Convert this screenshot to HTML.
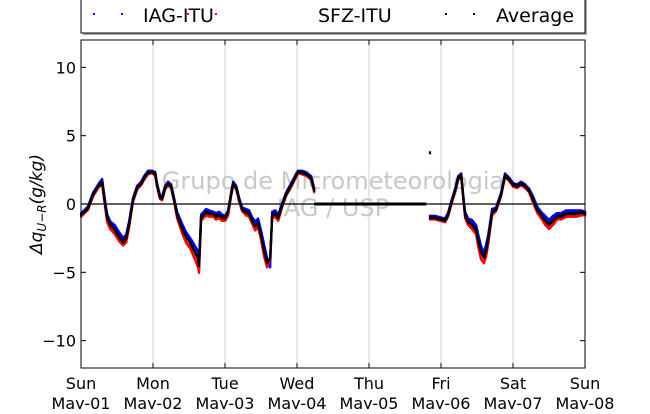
<!DOCTYPE html>
<html><head><meta charset="utf-8"><style>
body{margin:0;background:#fff;width:650px;height:409px;overflow:hidden}
svg text{font-family:"DejaVu Sans","Liberation Sans",sans-serif}
</style></head><body>
<svg id="chart" width="650" height="409" viewBox="0 0 650 409" xmlns="http://www.w3.org/2000/svg">
<g id="grid"></g>
<g id="watermark">
<text x="333" y="189" font-size="24" fill="#c8c8c8" text-anchor="middle">Grupo de Micrometeorologia</text>
<text x="333" y="216" font-size="24" fill="#c8c8c8" text-anchor="middle">IAG / USP</text>
</g>
<line x1="81" y1="204" x2="585" y2="204" stroke="#000" stroke-width="1.3"/>
<g id="marks"></g>
<rect x="81" y="40" width="504" height="328" fill="none" stroke="#000" stroke-width="1"/>
<g id="axes"></g>
<text transform="translate(42,204) rotate(-90)" font-size="17" text-anchor="middle" font-family="Liberation Serif,serif" font-style="italic">Δq<tspan font-size="12" dy="4">U−R</tspan><tspan dy="-4">(g/kg)</tspan></text>
<g>
<rect x="83" y="-6" width="504" height="41" fill="#aaa"/>
<rect x="81" y="-8" width="504" height="41" fill="#fff" stroke="#000"/>
<g><rect x="93" y="13" width="2" height="2" fill="#00f"/><rect x="121" y="13" width="2" height="2" fill="#00f"/><text x="143" y="22" font-size="19">IAG-ITU</text></g>
<g><rect x="187" y="13" width="2" height="2" fill="#f00"/><rect x="215" y="13" width="2" height="2" fill="#f00"/><text x="318" y="22" font-size="19">SFZ-ITU</text></g>
<g><rect x="445" y="13" width="2" height="2" fill="#000"/><rect x="473" y="13" width="2" height="2" fill="#000"/><text x="496" y="22" font-size="19">Average</text></g>
</g>
</svg>
<script>
// hours since Sun May-01 00:00
const hours=[0,2.3,4,5.7,7,8,8.7,9.7,11.3,12.7,14,15,16,17.3,18.7,20,21,22.3,23.7,24.7,25.3,26.3,27,28,29,30,31,32,33.7,35,36.3,37.7,39,39.3,40,41.7,42.7,44,45,46,47,48,49,50,50.7,51.7,52.7,53.7,55,56,57,58,59,60,61,62,63,63.7,64.7,65.7,67,68.3,69.7,71,72.3,73.7,75,76.7,77.7];
const avgA=[-0.8,-0.3,0.7,1.3,1.6,0,-1,-1.5,-1.9,-2.4,-2.8,-2.5,-1.5,0.3,1.2,1.5,1.9,2.3,2.35,2.2,1.4,0.5,0.4,1.2,1.5,1.3,0.3,-0.8,-1.8,-2.4,-2.8,-3.4,-4.0,-4.5,-1.0,-0.6,-0.7,-0.7,-0.9,-0.8,-1,-1,-0.6,0.7,1.5,1.2,0.3,-0.4,-0.6,-0.7,-1.2,-1.6,-1.4,-2.3,-3.4,-4.3,-4.0,-0.8,-0.7,-1,-0.1,0.7,1.25,1.8,2.35,2.3,2.2,1.9,1.0];
const iagA=[-0.7,-0.2,0.8,1.4,1.8,0.2,-0.8,-1.3,-1.6,-2.1,-2.5,-2.3,-1.3,0.4,1.3,1.6,2.0,2.4,2.4,2.3,1.5,0.6,0.5,1.3,1.6,1.4,0.4,-0.6,-1.5,-2.1,-2.5,-3.0,-3.5,-4.2,-0.8,-0.4,-0.5,-0.6,-0.7,-0.6,-0.8,-0.9,-0.5,0.8,1.6,1.3,0.4,-0.3,-0.4,-0.5,-1.0,-1.3,-1.1,-2.0,-3.0,-4.0,-4.6,-0.6,-0.5,-0.8,0.0,0.8,1.35,1.9,2.4,2.4,2.3,2.0,1.1];
const sfzA=[-0.9,-0.4,0.6,1.2,1.5,-0.2,-1.3,-1.8,-2.2,-2.7,-3.0,-2.8,-1.7,0.2,1.1,1.4,1.8,2.2,2.3,2.1,1.3,0.4,0.3,1.1,1.4,1.2,0.2,-1.0,-2.1,-2.8,-3.2,-3.9,-4.6,-5.0,-1.2,-0.8,-0.9,-0.9,-1.1,-1.0,-1.2,-1.2,-0.8,0.6,1.4,1.1,0.2,-0.5,-0.8,-0.9,-1.4,-1.9,-1.7,-2.6,-3.8,-4.6,-4.1,-1.0,-0.9,-1.2,-0.2,0.6,1.15,1.7,2.3,2.2,2.1,1.8,0.9];
// flat average gap segment (hours) and value
const gapHours=[78,114.7];
const gapAvg=[0,0];
const outlierHour=[116.3];
const outlierAvg=[3.75];
const hoursB=[116.3,118,119.7,121.3,122.3,123.7,124.7,125.7,126.7,127.3,128,129,130.3,131.7,132.3,133.3,134.3,135,135.7,137,138.3,140,141.3,142.7,144,145.3,146.7,148,149.3,150.7,152,153.3,154.7,156,157.3,158.7,160,161.7,163.3,165,166.7,168];
const avgB=[-1.0,-1.0,-1.1,-1.2,-0.8,0.3,1.0,1.9,2.1,0.7,-0.8,-1.3,-1.5,-1.9,-2.6,-3.5,-3.9,-3.4,-2.6,-0.6,-0.4,0.7,2.1,1.8,1.4,1.3,1.5,1.3,1.0,0.3,-0.4,-0.8,-1.2,-1.5,-1.2,-0.9,-0.9,-0.7,-0.7,-0.7,-0.6,-0.7];
const iagB=[-0.9,-0.9,-1.0,-1.1,-0.7,0.4,1.1,2.0,2.2,0.8,-0.6,-1.1,-1.2,-1.6,-2.2,-3.1,-3.6,-3.0,-2.3,-0.4,-0.3,0.8,2.2,1.9,1.5,1.4,1.6,1.4,1.1,0.5,-0.2,-0.6,-0.9,-1.2,-0.9,-0.7,-0.7,-0.5,-0.5,-0.5,-0.5,-0.6];
const sfzB=[-1.1,-1.1,-1.2,-1.3,-0.9,0.2,0.9,1.8,2.0,0.6,-1.0,-1.5,-1.8,-2.2,-3.0,-4.0,-4.3,-3.8,-2.9,-0.8,-0.5,0.6,2.0,1.7,1.3,1.2,1.4,1.2,0.9,0.1,-0.6,-1.0,-1.5,-1.8,-1.5,-1.1,-1.1,-0.9,-0.9,-0.9,-0.8,-0.8];
const dayLabels=["Sun","Mon","Tue","Wed","Thu","Fri","Sat","Sun"];
const dateLabels=["May-01","May-02","May-03","May-04","May-05","May-06","May-07","May-08"];
const yTicks=[10,5,0,-5,-10];

const NS="http://www.w3.org/2000/svg";
const X0=81,X1=585,Y0=40,Y1=368;
const xs=h=>X0+(X1-X0)*h/168;
const ys=v=>Y0+(Y1-Y0)*(12-v)/24;
const marks=document.getElementById('marks'),grid=document.getElementById('grid'),axes=document.getElementById('axes');
function mk(tag,attrs,parent){const e=document.createElementNS(NS,tag);for(const k in attrs)e.setAttribute(k,attrs[k]);parent.appendChild(e);return e;}
function series(hs,vs,color,name){
  const g=mk('g',{},marks);
  
  
  for(let i=0;i<hs.length;i++){
    const d=mk('rect',{x:xs(hs[i])-1,y:ys(vs[i])-1.5,width:2.2,height:3,fill:color},g);
    
    
    if(i<hs.length-1){
      const x1=xs(hs[i]),x2=xs(hs[i+1]),y1=ys(vs[i]),y2=ys(vs[i+1]);
      const n=Math.max(1,Math.ceil(Math.max(Math.abs(x2-x1),Math.abs(y2-y1))/1.2));
      for(let k=1;k<n;k++){const t=k/n;
        const p=mk('rect',{x:x1+(x2-x1)*t-1,y:y1+(y2-y1)*t-1.5,width:2.2,height:3,fill:color},g);
        
        }
    }
  }
}
series(hours,iagA,'#00f','iag-itu-series-a');series(hoursB,iagB,'#00f','iag-itu-series-b');
series(hours,sfzA,'#f00','sfz-itu-series-a');series(hoursB,sfzB,'#f00','sfz-itu-series-b');
series(hours,avgA,'#000','average-series-a');series(hoursB,avgB,'#000','average-series-b');
series(gapHours,gapAvg,'#000','average-gap-segment');
series(outlierHour,outlierAvg,'#000','average-outlier');

for(let i=0;i<dayLabels.length;i++){
  const x=xs(i*24);
  if(i>0&&i<7){const l=mk('line',{x1:x,y1:Y0,x2:x,y2:Y1,stroke:'#cfcfcf','stroke-width':1},grid);
    
    }
  const t1=mk('text',{x:x,y:389,'font-size':16,'text-anchor':'middle'},axes);t1.textContent=dayLabels[i];
  
  
  const t2=mk('text',{x:x,y:409,'font-size':16,'text-anchor':'middle'},axes);t2.textContent=dateLabels[i];
  
  
  mk('line',{x1:x,y1:Y1,x2:x,y2:Y1-5,stroke:'#000'},axes);
  mk('line',{x1:x,y1:Y0,x2:x,y2:Y0+5,stroke:'#000'},axes);
}
for(const v of yTicks){
  const y=ys(v);
  mk('line',{x1:X0,y1:y,x2:X0+5,y2:y,stroke:'#000'},axes);
  mk('line',{x1:X1,y1:y,x2:X1-5,y2:y,stroke:'#000'},axes);
  const t=mk('text',{x:X0-5,y:y+6,'font-size':16,'text-anchor':'end'},axes);t.textContent=v<0?'−'+(-v):String(v);
  
  
}
</script>
</body></html>
